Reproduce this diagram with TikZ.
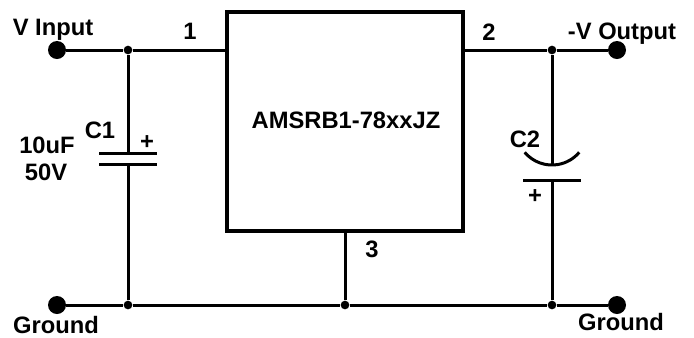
\documentclass[tikz,border=0pt]{standalone}
\usepackage{fontspec}
\setmainfont{Liberation Sans}

\tikzset{
  wire/.style={line width=2.25pt},
  term/.style={circle, fill=black, inner sep=0pt, minimum size=13.5pt},
  junc/.style={circle, fill=black, inner sep=0pt, minimum size=6.5pt},
  lbl/.style={font=\fontsize{17.8}{20}\selectfont\bfseries, inner sep=0pt, anchor=base},
}

\begin{document}
\begin{tikzpicture}[x=0.75pt,y=0.75pt,yscale=-1,xscale=1]
\useasboundingbox (0,0) rectangle (694,337);

%Shape: Rectangle [regulator]
\node[draw, line width=3pt, minimum width=177pt, minimum height=164.25pt, inner sep=0pt] (reg) at (345,121.5) {};

%Shape: Circle [terminals]
\node[term] (vin) at (57,50) {};
\node[term] (vout) at (617,50) {};
\node[term] (gndl) at (57,305) {};
\node[term] (gndr) at (617,305) {};

%Shape: Circle [junctions]
\node[junc] (jin) at (128,50) {};
\node[junc] (jout) at (552,50) {};
\node[junc] (jg1) at (128,305) {};
\node[junc] (jg3) at (345,305) {};
\node[junc] (jg2) at (552,305) {};

%capacitor plates
\coordinate (c1a) at (128,153);
\coordinate (c1b) at (128,164);
\coordinate (c2a) at (552,165);
\coordinate (c2b) at (552,180);

%Straight Lines [input / output]
\draw[wire] (vin) -- (jin) -- (reg.west |- jin);
\draw[wire] (reg.east |- jout) -- (jout) -- (vout);
%Straight Lines [ground]
\draw[wire] (gndl) -- (jg1) -- (jg3) -- (jg2) -- (gndr);
\draw[wire] (reg.south) -- (jg3);

%C1
\draw[wire] (jin) -- (c1a);
\draw[wire] (c1a) +(-29,0) -- +(29,0);
\draw[wire] (c1b) +(-29,0) -- +(29,0);
\draw[wire] (c1b) -- (jg1);

%C2
\draw[wire] (jout) -- (c2a);
\draw[wire] (c2a) ++(-27.3,-12.7) arc[start angle=140, end angle=40, radius=35.6];
\draw[wire] (c2b) +(-29,0) -- +(29,0);
\draw[wire] (c2b) -- (jg2);

% Text Node
\node[lbl] (tvin) at (53,35) {V Input};
\node[lbl] (tpin1) at (190,39) {1};
\node[lbl] (tpin2) at (489,40) {2};
\node[lbl] (tvout) at (622,39) {-V Output};
\node[lbl] (tpin3) at (372,257) {3};
\node[lbl] (treg) at (346,128) {AMSRB1-78xxJZ};
\node[lbl] (tc1) at (100,138) {C1};
\node[lbl] (tcval) at (47,153) {10uF};
\node[lbl] (tcvolt) at (46,180) {50V};
\node[lbl, anchor=center] (tc1p) at (147,143) {+};
\node[lbl] (tc2) at (525,147) {C2};
\node[lbl, anchor=center] (tc2p) at (535,197) {+};
\node[lbl] (tgndl) at (56,333) {Ground};
\node[lbl] (tgndr) at (621,330) {Ground};

\end{tikzpicture}
\end{document}
